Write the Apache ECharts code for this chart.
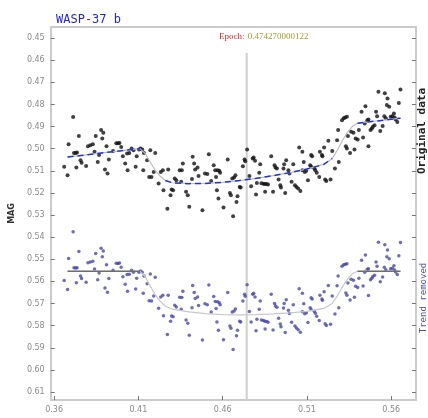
<!DOCTYPE html>
<html><head><meta charset="utf-8">
<script src="https://cdn.jsdelivr.net/npm/echarts@6/dist/echarts.min.js"></script>
<style>html,body{margin:0;padding:0;background:#fff}#c{width:428px;height:418px}</style>
</head><body><div id="c"></div>
<script>
const titleText = 'WASP-37 b';
const epoch = 0.474270000122;
const xTickLabels = ['0.36', '0.41', '0.46', '0.51', '0.56'];
const yTickLabels = ['0.45','0.46','0.47','0.48','0.49','0.50','0.51','0.52','0.53','0.54','0.55','0.56','0.57','0.58','0.59','0.60','0.61'];

const time = [
.3660,.3680,.3686,.3713,.3718,.3728,.3732,.3736,.3747,.3757,.3763,.3790,.3801,.3815,.3830,.3840,.3847,.3859,.3867,.3879,
.3886,.3892,.3902,.3911,.3917,.3925,.3950,.3969,.3979,.3988,.3998,.4008,.4022,.4033,.4036,.4046,.4060,.4071,.4084,.4090,
.4104,.4113,.4123,.4129,.4133,.4152,.4164,.4171,.4178,.4191,.4200,.4220,.4233,.4245,.4249,.4272,.4277,.4291,.4297,.4306,
.4316,.4325,.4345,.4354,.4358,.4364,.4383,.4393,.4402,.4418,.4422,.4431,.4437,.4451,.4457,.4480,.4495,.4509,.4518,.4532,
.4547,.4556,.4561,.4566,.4570,.4575,.4580,.4585,.4605,.4630,.4643,.4649,.4657,.4662,.4668,.4676,.4682,.4688,.4701,.4707,
.4720,.4730,.4734,.4745,.4759,.4769,.4778,.4784,.4792,.4798,.4803,.4817,.4823,.4830,.4842,.4850,.4852,.4861,.4869,.4888,
.4899,.4908,.4913,.4922,.4932,.4942,.4946,.4961,.4965,.4971,.4977,.4990,.4996,.5009,.5019,.5029,.5038,.5048,.5054,.5061,
.5073,.5073,.5081,.5087,.5096,.5106,.5119,.5125,.5125,.5131,.5144,.5150,.5158,.5173,.5177,.5189,.5192,.5202,.5208,.5215,
.5227,.5240,.5250,.5266,.5279,.5285,.5289,.5308,.5318,.5327,.5331,.5337,.5337,.5343,.5356,.5362,.5376,.5382,.5389,.5401,
.5408,.5424,.5433,.5443,.5447,.5458,.5465,.5465,.5477,.5485,.5491,.5501,.5510,.5516,.5524,.5535,.5549,.5559,.5562,.5568,
.5574,.5578,.5588,.5597,.5607,.5616,.5620,.5626,.5636,.5645,.5655
];
const magOriginal = [
.5082,.5120,.4980,.4857,.5019,.5019,.5085,.5017,.4943,.5052,.5064,.5078,.4989,.4984,.4980,.5014,.4943,.5060,.5029,.4916,
.4954,.4928,.5094,.4989,.5112,.5049,.5010,.4976,.4976,.4974,.4992,.5034,.5067,.5022,.5097,.5019,.4999,.5007,.5082,.5034,
.5004,.4999,.5004,.5097,.5019,.5052,.5128,.5007,.5128,.5105,.5019,.5157,.5105,.5097,.5188,.5271,.5094,.5210,.5185,.5188,
.5135,.5143,.5097,.5150,.5097,.5067,.5195,.5210,.5263,.5137,.5037,.5067,.5094,.5085,.5124,.5278,.5112,.5115,.5025,.5146,
.5075,.5097,.5128,.5188,.5097,.5225,.5100,.5109,.5266,.5049,.5200,.5210,.5135,.5305,.5130,.5120,.5241,.5215,.5173,.5176,
.5079,.5049,.5057,.5004,.5124,.5170,.5044,.5040,.5055,.5207,.5155,.5109,.5070,.5156,.5158,.5160,.5195,.5160,.5162,.5034,
.5195,.5075,.5085,.5090,.5139,.5165,.5176,.5090,.5070,.5200,.5052,.5097,.5112,.5150,.5070,.5165,.5173,.5180,.4995,.5191,
.5014,.5097,.5060,.5105,.5100,.5143,.5075,.5082,.5029,.5034,.5090,.5097,.5109,.5128,.5014,.5029,.5034,.4995,.5139,.5146,
.4964,.5139,.5010,.5090,.4962,.4916,.5060,.4871,.4863,.4859,.4989,.4856,.4999,.4943,.5019,.4924,.4928,.5004,.4954,.4958,
.4916,.4833,.4949,.4886,.4808,.4871,.4868,.4989,.4916,.4909,.4901,.4894,.4833,.4853,.4743,.4920,.4898,.4853,.4750,.4863,
.4803,.4773,.4811,.4856,.4853,.4841,.4859,.4868,.4879,.4793,.4732
];
const magTrendRemoved = [
.5596,.5636,.5496,.5376,.5538,.5539,.5606,.5538,.5465,.5575,.5587,.5604,.5516,.5512,.5509,.5544,.5474,.5592,.5562,.5450,
.5488,.5463,.5630,.5525,.5649,.5587,.5550,.5518,.5519,.5517,.5536,.5579,.5613,.5569,.5645,.5568,.5549,.5558,.5634,.5586,
.5558,.5553,.5559,.5653,.5575,.5610,.5687,.5567,.5688,.5666,.5581,.5721,.5670,.5663,.5755,.5840,.5663,.5780,.5756,.5760,
.5708,.5716,.5672,.5726,.5673,.5644,.5774,.5789,.5843,.5719,.5619,.5650,.5677,.5670,.5709,.5865,.5701,.5705,.5616,.5738,
.5668,.5691,.5722,.5783,.5692,.5821,.5696,.5706,.5864,.5650,.5802,.5812,.5738,.5908,.5734,.5725,.5846,.5821,.5780,.5783,
.5688,.5658,.5667,.5615,.5736,.5783,.5658,.5654,.5670,.5823,.5771,.5726,.5688,.5774,.5777,.5780,.5815,.5781,.5784,.5658,
.5820,.5700,.5711,.5717,.5766,.5793,.5805,.5720,.5700,.5831,.5683,.5730,.5745,.5784,.5705,.5801,.5810,.5818,.5633,.5830,
.5654,.5737,.5701,.5746,.5742,.5786,.5719,.5727,.5674,.5679,.5736,.5744,.5757,.5777,.5663,.5679,.5685,.5647,.5791,.5799,
.5618,.5794,.5666,.5747,.5620,.5575,.5719,.5532,.5525,.5522,.5652,.5520,.5663,.5607,.5684,.5590,.5595,.5672,.5622,.5627,
.5586,.5504,.5621,.5559,.5481,.5545,.5543,.5664,.5592,.5586,.5578,.5572,.5512,.5532,.5423,.5601,.5580,.5536,.5434,.5547,
.5488,.5458,.5497,.5543,.5541,.5529,.5548,.5557,.5569,.5484,.5424
];

const modelTime = [0.368,0.38,0.39,0.40,0.411,0.414,0.417,0.420,0.423,0.426,0.43,0.44,0.45,0.46,0.47,0.48,0.49,0.50,0.51,0.52,0.525,0.528,0.531,0.534,0.537,0.540,0.55,0.5655];
const modelOriginal = [.5038,.5027,.5018,.5009,.5000,.5021,.5060,.5098,.5125,.5144,.5154,.5158,.5157,.5152,.5144,.5134,.5122,.5108,.5092,.5071,.5044,.5007,.4964,.4926,.4899,.4885,.4876,.4862];
const modelTrendRemoved = [.5554,.5554,.5554,.5554,.5554,.5578,.5620,.5660,.5690,.5712,.5725,.5738,.5746,.5750,.5751,.5750,.5747,.5742,.5735,.5722,.5700,.5665,.5625,.5590,.5565,.5554,.5554,.5554];
const transitStart = 0.411, flatStart = 0.426, flatEnd = 0.525, transitEnd = 0.540;

// layout
const xMin = 0.358, xMax = 0.5747, yMin = 0.445, yMax = 0.6136, epochLineTop = 0.4568;

const pairs = (xs, ys) => xs.map((x, i) => [x, ys[i]]);
const maskPairs = (xs, ys, keep) => xs.map((x, i) => [x, keep(x) ? ys[i] : '-']);
const xTickVals = xTickLabels.map(Number);
const yTickVals = yTickLabels.map(Number);

const axisLineStyle = { color: '#cbcbcb', width: 2 };
const tickStyle = { color: '#777', width: 1 };
const labelStyle = { color: '#8a8a8a', fontSize: 8, fontFamily: 'DejaVu Sans' };

const chart = echarts.init(document.getElementById('c'), null, { renderer: 'canvas' });
chart.setOption({
  animation: false,
  backgroundColor: '#fff',
  title: { text: titleText, left: 51, top: 9, textStyle: { color: '#2424dd', fontSize: 12, fontWeight: 'normal', fontFamily: 'DejaVu Sans Mono' } },
  grid: { left: 41, right: 12, top: 27, bottom: 18 },
  xAxis: [
    { type: 'value', min: xMin, max: xMax, position: 'bottom',
      axisLine: { show: true, onZero: false, lineStyle: axisLineStyle },
      axisTick: { show: true, inside: true, length: 4, customValues: xTickVals, lineStyle: tickStyle },
      axisLabel: { customValues: xTickVals, formatter: v => xTickLabels[xTickVals.indexOf(v)] ?? v.toFixed(2), margin: 6, ...labelStyle },
      splitLine: { show: false } },
    { type: 'value', min: xMin, max: xMax, position: 'top',
      axisLine: { show: true, onZero: false, lineStyle: axisLineStyle },
      axisTick: { show: false }, axisLabel: { show: false }, splitLine: { show: false } }
  ],
  yAxis: [
    { type: 'value', inverse: true, min: yMin, max: yMax, position: 'left',
      name: 'MAG', nameLocation: 'middle', nameGap: 27, nameRotate: 90,
      nameTextStyle: { color: '#333', fontSize: 8, fontWeight: 'bold', fontFamily: 'DejaVu Sans' },
      axisLine: { show: true, onZero: false, lineStyle: axisLineStyle },
      axisTick: { show: true, inside: true, length: 4, customValues: yTickVals, lineStyle: tickStyle },
      axisLabel: { customValues: yTickVals, formatter: v => v.toFixed(2), margin: 6, ...labelStyle },
      splitLine: { show: false } },
    { type: 'value', inverse: true, min: yMin, max: yMax, position: 'right',
      axisLine: { show: true, onZero: false, lineStyle: axisLineStyle },
      axisTick: { show: true, inside: true, length: 4, customValues: yTickVals, lineStyle: tickStyle },
      axisLabel: { show: false }, splitLine: { show: false } }
  ],
  graphic: [
    { type: 'text', left: 219, top: 31, z: 10,
      style: { text: '{a|Epoch:} {b|' + String(epoch) + '}',
        rich: { a: { fill: '#dd2222', fontSize: 9, fontFamily: 'Liberation Serif' },
                b: { fill: '#a0a030', fontSize: 9, fontFamily: 'Liberation Serif' } } } },
    { type: 'text', x: 422, y: 131, rotation: Math.PI / 2, z: 10,
      style: { text: 'Original data', fill: '#222', fontSize: 11, fontWeight: 'bold', fontFamily: 'DejaVu Sans Mono', align: 'center', verticalAlign: 'middle' } },
    { type: 'text', x: 424, y: 298, rotation: Math.PI / 2, z: 10,
      style: { text: 'Trend removed', fill: '#5050b0', fontSize: 9, fontFamily: 'DejaVu Sans Mono', align: 'center', verticalAlign: 'middle' } }
  ],
  series: [
    { type: 'line', data: [[epoch, epochLineTop], [epoch, yMax]], symbol: 'none', silent: true,
      lineStyle: { color: '#cfcfcf', width: 2 }, z: 1 },
    { name: 'Original data', type: 'scatter', data: pairs(time, magOriginal), symbol: 'circle', symbolSize: 4,
      itemStyle: { color: '#111' }, z: 3 },
    { name: 'Trend removed', type: 'scatter', data: pairs(time, magTrendRemoved), symbol: 'circle', symbolSize: 3.5,
      itemStyle: { color: '#4848a6' }, z: 3 },
    { type: 'line', data: pairs(modelTime, modelOriginal), symbol: 'none', silent: true,
      lineStyle: { color: '#bdbdbd', width: 1.2 }, z: 4 },
    { type: 'line', data: maskPairs(modelTime, modelOriginal, x => x <= transitStart || (x >= flatStart && x <= flatEnd) || x >= transitEnd),
      symbol: 'none', silent: true, connectNulls: false,
      lineStyle: { color: '#2233dd', width: 1.5, type: [6, 4] }, z: 5 },
    { type: 'line', data: pairs(modelTime, modelTrendRemoved), symbol: 'none', silent: true,
      lineStyle: { color: '#c8c8c8', width: 1.2 }, z: 4 },
    { type: 'line', data: maskPairs(modelTime, modelTrendRemoved, x => x <= transitStart || x >= transitEnd),
      symbol: 'none', silent: true, connectNulls: false,
      lineStyle: { color: '#6e6e6e', width: 1.5 }, z: 5 }
  ]
});
</script>
</body></html>
